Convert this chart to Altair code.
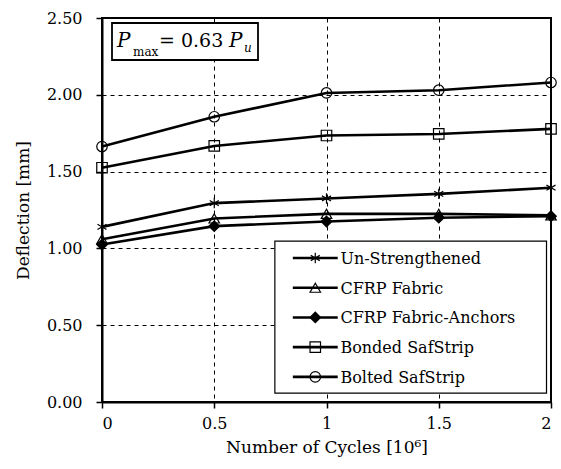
import altair as alt
import pandas as pd

# ---------------- data ----------------
cycles = [0, 0.5, 1, 1.5, 2]
series_names = ["Un-Strengthened", "CFRP Fabric", "CFRP Fabric-Anchors",
                "Bonded SafStrip", "Bolted SafStrip"]
un_strengthened = [1.14, 1.295, 1.325, 1.355, 1.395]
cfrp_fabric = [1.06, 1.195, 1.225, 1.225, 1.215]
cfrp_fabric_anchors = [1.025, 1.145, 1.175, 1.20, 1.21]
bonded_safstrip = [1.525, 1.667, 1.735, 1.745, 1.778]
bolted_safstrip = [1.663, 1.857, 2.012, 2.03, 2.08]
y_ticks = [0.0, 0.5, 1.0, 1.5, 2.0, 2.5]
x_ticks = [0, 0.5, 1, 1.5, 2]

series_values = [un_strengthened, cfrp_fabric, cfrp_fabric_anchors,
                 bonded_safstrip, bolted_safstrip]

STAR = "M0,-1L0,1M-0.866,-0.5L0.866,0.5M-0.866,0.5L0.866,-0.5"
shape_range = [STAR, "triangle-up", "diamond", "square", "circle"]

rows = []
for name, vals in zip(series_names, series_values):
    for c, v in zip(cycles, vals):
        rows.append({"series": name, "cycles": c, "deflection": v})
df = pd.DataFrame(rows)

FONT = "DejaVu Serif"
W, H = 449, 384

xscale = alt.Scale(domain=[0, 2], nice=False, zero=False)
yscale = alt.Scale(domain=[0, 2.5], nice=False)
shape_scale = alt.Scale(domain=series_names, range=shape_range)

x_enc = alt.X("cycles:Q", scale=xscale,
              axis=alt.Axis(values=x_ticks, title="Number of Cycles [10⁶]",
                            labelExpr="'' + datum.value"))
y_enc = alt.Y("deflection:Q", scale=yscale,
              axis=alt.Axis(values=y_ticks, title="Deflection [mm]", format=".2f"))

base = alt.Chart(df)

lines = base.mark_line(color="black", strokeWidth=2.6).encode(
    x=x_enc, y=y_enc, detail="series:N")

open_pts = base.transform_filter(
    alt.datum.series != "CFRP Fabric-Anchors"
).mark_point(filled=False, stroke="black", strokeWidth=1.2, size=110, opacity=1).encode(
    x="cycles:Q", y="deflection:Q",
    shape=alt.Shape("series:N", scale=shape_scale, legend=None))

filled_pts = base.transform_filter(
    alt.datum.series == "CFRP Fabric-Anchors"
).mark_point(filled=True, fill="black", stroke="black", size=90, opacity=1,
             shape="diamond").encode(x="cycles:Q", y="deflection:Q")

# ---------------- manual legend (data units of the main scales) ----------------
leg_df = pd.DataFrame({"series": series_names, "row": list(range(len(series_names)))})
leg_box_df = pd.DataFrame({"x1": [0.77], "x2": [1.98], "y1": [1.048], "y2": [0.058]})

leg_box = alt.Chart(leg_box_df).mark_rect(fill="white", stroke="black", strokeWidth=1.2).encode(
    x="x1:Q", x2="x2:Q", y="y1:Q", y2="y2:Q")

leg_base = alt.Chart(leg_df).transform_calculate(
    ly="0.9375 - datum.row * 0.1935", lx1="0.85", lx2="1.05", lxm="0.95", lxt="1.062")

leg_lines = leg_base.mark_rule(color="black", strokeWidth=2.6).encode(
    x="lx1:Q", x2="lx2:Q", y="ly:Q")
leg_open = leg_base.transform_filter(
    alt.datum.series != "CFRP Fabric-Anchors"
).mark_point(filled=False, stroke="black", strokeWidth=1.2, size=110, opacity=1).encode(
    x="lxm:Q", y="ly:Q", shape=alt.Shape("series:N", scale=shape_scale, legend=None))
leg_fill = leg_base.transform_filter(
    alt.datum.series == "CFRP Fabric-Anchors"
).mark_point(filled=True, fill="black", stroke="black", size=90, opacity=1,
             shape="diamond").encode(x="lxm:Q", y="ly:Q")
leg_text = leg_base.mark_text(align="left", baseline="middle", font=FONT,
                              fontSize=16, color="black", dy=1).encode(
    x="lxt:Q", y="ly:Q", text="series:N")

# ---------------- annotation P_max = 0.63 P_u ----------------
one = pd.DataFrame({"k": [0]})
ann_box = alt.Chart(one).mark_rect(fill="white", stroke="black", strokeWidth=1.8).encode(
    x=alt.value(10), x2=alt.value(156), y=alt.value(5), y2=alt.value(42))

def txt(s, x, y, size, italic=False):
    return alt.Chart(pd.DataFrame({"t": [s]})).mark_text(
        align="left", baseline="alphabetic", font=FONT, fontSize=size,
        fontStyle="italic" if italic else "normal", color="black").encode(
        x=alt.value(x), y=alt.value(y), text="t:N")

ann = (ann_box + txt("P", 15, 29, 20, True) + txt("max", 31, 38, 12)
       + txt("= 0.63", 57, 29, 19) + txt("P", 127, 29, 20, True)
       + txt("u", 142, 34, 12, True))

chart = alt.layer(lines, open_pts, filled_pts, leg_box, leg_lines, leg_open, leg_fill,
                  leg_text, ann).properties(
    width=W, height=H,
    autosize=alt.AutoSizeParams(type="none"),
    padding={"left": 102, "top": 18, "right": 10, "bottom": 67},
).configure_view(stroke="black", strokeWidth=2).configure_axis(
    labelFont=FONT, labelFontSize=16, labelColor="black",
    titleFont=FONT, titleFontSize=17, titleFontWeight="normal", titleColor="black",
    tickColor="black", tickSize=6, tickWidth=1.5,
    domainColor="black", domainWidth=2,
    gridColor="black", gridDash=[4, 4], gridWidth=1, gridOpacity=1,
).configure_axisY(labelPadding=14, titlePadding=14).configure_axisX(
    labelPadding=7, titlePadding=8)

chart.save("out.html", embed_options={"renderer": "svg", "actions": False})
